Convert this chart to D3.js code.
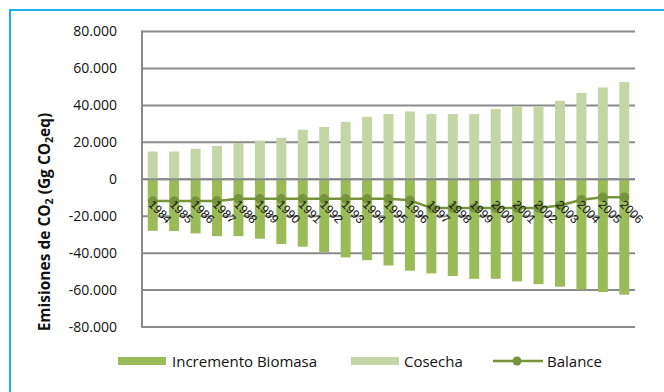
<!DOCTYPE html>
<html>
<head>
<meta charset="utf-8">
<script src="https://cdn.jsdelivr.net/npm/d3@7"></script>
<style>
  body { margin: 0; background: #fff; }
  svg { display: block; font-family: "Open Sans", sans-serif; }
</style>
</head>
<body>
<div id="chart"></div>
<script>
const years = d3.range(1984, 2007).map(String);
const cosecha = [15000, 15000, 16500, 18100, 19600, 20900, 22500, 26800, 28300, 31100, 33800,
  35300, 36700, 35300, 35300, 35300, 38000, 39600, 39600, 42500, 46800, 49700, 52600];
const incremento = [-27900, -28000, -29300, -30800, -30800, -32200, -35100, -36500, -39400, -42300, -43800,
  -46700, -49500, -51000, -52400, -53900, -53900, -55300, -56800, -58200, -59700, -61100, -62500];
const balance = [-11800, -11800, -11800, -11800, -10600, -10600, -10600, -10600, -10600, -10600, -10600,
  -10600, -11400, -15600, -15600, -15600, -15600, -15600, -15600, -14200, -11100, -9800, -9800];
const yTicks = [80000, 60000, 40000, 20000, 0, -20000, -40000, -60000, -80000];

const W = 664, H = 392;
const colInc = '#9bbb59', colCos = '#c4d6a6', colBal = '#77933c';

const svg = d3.select('#chart').append('svg')
  .attr('width', W).attr('height', H);

// cyan frame (top and left edges visible)
svg.append('path')
  .attr('d', `M10,${H} L10,10 L${W},10`)
  .attr('fill', 'none')
  .attr('stroke', '#1ab2ee')
  .attr('stroke-width', 2);

const x = d3.scaleBand().domain(years).range([142, 635]);
const y = d3.scaleLinear().domain([-80000, 80000]).range([327, 31.5]);

// gridlines
svg.append('g').selectAll('line')
  .data(yTicks)
  .join('line')
  .attr('x1', 142).attr('x2', 635)
  .attr('y1', d => y(d)).attr('y2', d => y(d))
  .attr('stroke', '#8a8a8a')
  .attr('stroke-width', 2);

// y axis tick labels
const fmt = d => d === 0 ? '0' : d3.format(',')(d).replace(/,/g, '.').replace('−', '-');
svg.append('g').selectAll('text')
  .data(yTicks)
  .join('text')
  .attr('x', 117)
  .attr('y', d => y(d))
  .attr('dy', '0.35em')
  .attr('text-anchor', 'end')
  .attr('font-size', 14)
  .attr('fill', '#111')
  .text(fmt);

const bw = 10;
// Cosecha bars
svg.append('g').selectAll('rect')
  .data(cosecha)
  .join('rect')
  .attr('x', (d, i) => x(years[i]) + x.bandwidth() / 2 - bw / 2)
  .attr('width', bw)
  .attr('y', d => y(d))
  .attr('height', d => y(0) - y(d))
  .attr('fill', colCos);

// Incremento bars
svg.append('g').selectAll('rect')
  .data(incremento)
  .join('rect')
  .attr('x', (d, i) => x(years[i]) + x.bandwidth() / 2 - bw / 2)
  .attr('width', bw)
  .attr('y', y(0))
  .attr('height', d => y(d) - y(0))
  .attr('fill', colInc);

// zero line on top of bars
svg.append('line')
  .attr('x1', 142).attr('x2', 635)
  .attr('y1', y(0)).attr('y2', y(0))
  .attr('stroke', '#8a8a8a').attr('stroke-width', 2);

// left axis line
svg.append('line')
  .attr('x1', 142).attr('x2', 142)
  .attr('y1', y(80000) - 1).attr('y2', y(-80000) + 1)
  .attr('stroke', '#8a8a8a').attr('stroke-width', 2);

// Balance line
const cx = i => x(years[i]) + x.bandwidth() / 2;
svg.append('path')
  .datum(balance)
  .attr('d', d3.line().x((d, i) => cx(i)).y(d => y(d)))
  .attr('fill', 'none')
  .attr('stroke', colBal)
  .attr('stroke-width', 2.5);
svg.append('g').selectAll('circle')
  .data(balance)
  .join('circle')
  .attr('cx', (d, i) => cx(i))
  .attr('cy', d => y(d))
  .attr('r', 4.8)
  .attr('fill', colBal);

// year labels, rotated
svg.append('g').selectAll('text')
  .data(years)
  .join('text')
  .attr('transform', d => `translate(${x(d) + x.bandwidth() / 2 - 5},${y(0) + 26}) rotate(45)`)
  .attr('font-family', '"Liberation Sans", Arial, sans-serif')
  .attr('font-size', 12)
  .attr('fill', '#111')
  .text(d => d);

// y title
const title = svg.append('text')
  .attr('transform', 'translate(50,222) rotate(-90)')
  .attr('text-anchor', 'middle')
  .attr('font-size', 15.5)
  .attr('font-weight', 'bold')
  .attr('fill', '#111');
title.append('tspan').text('Emisiones de CO');
title.append('tspan').attr('font-size', 10.5).attr('dy', 3).text('2');
title.append('tspan').attr('dy', -3).text(' (Gg CO');
title.append('tspan').attr('font-size', 10.5).attr('dy', 3).text('2');
title.append('tspan').attr('dy', -3).text('eq)');

// legend
const leg = svg.append('g').attr('font-size', 15).attr('fill', '#111');
leg.append('rect').attr('x', 118).attr('y', 357).attr('width', 48).attr('height', 8).attr('fill', colInc);
leg.append('text').attr('x', 172).attr('y', 367).text('Incremento Biomasa');
leg.append('rect').attr('x', 351).attr('y', 357).attr('width', 48).attr('height', 8).attr('fill', colCos);
leg.append('text').attr('x', 404).attr('y', 367).text('Cosecha');
leg.append('line').attr('x1', 493).attr('x2', 543).attr('y1', 361).attr('y2', 361)
  .attr('stroke', colBal).attr('stroke-width', 2.5);
leg.append('circle').attr('cx', 517).attr('cy', 361).attr('r', 4.5).attr('fill', colBal);
leg.append('text').attr('x', 547).attr('y', 367).text('Balance');
</script>
</body>
</html>
